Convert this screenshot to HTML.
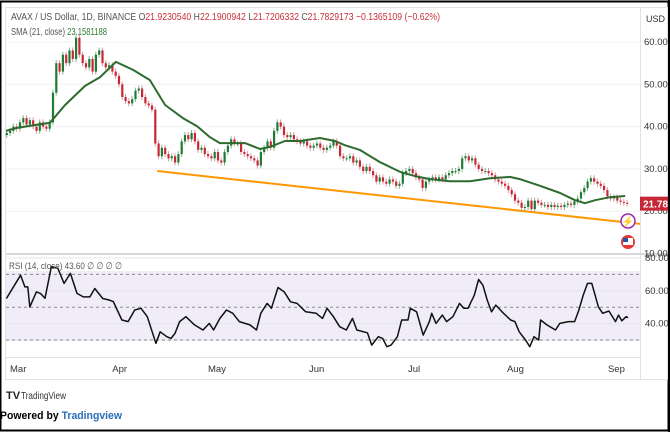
<!DOCTYPE html>
<html><head><meta charset="utf-8"><style>
html,body{margin:0;padding:0;background:#fff;width:670px;height:432px;overflow:hidden;font-family:"Liberation Sans",sans-serif}
svg text{font-family:"Liberation Sans",sans-serif}
</style></head><body>
<svg id="chart" width="670" height="432" viewBox="0 0 670 432" xmlns="http://www.w3.org/2000/svg">
<rect x="0.5" y="1.5" width="668" height="429" fill="#fff" stroke="#000" stroke-width="2"/>
<rect x="5.5" y="7.5" width="662" height="372" fill="none" stroke="#e0e3eb"/>
<line x1="640.5" y1="8" x2="640.5" y2="380" stroke="#e0e3eb"/>
<rect x="6" y="271" width="634" height="70" fill="#f0edf8"/>
<g id="grid"></g>
<line x1="6" y1="254" x2="668" y2="254" stroke="#d6d8de" stroke-width="2"/>
<line x1="6" y1="357.5" x2="640" y2="357.5" stroke="#e0e3eb"/>
<g id="trend"></g>
<g id="candles"></g>
<g id="sma"></g>
<g id="rsi"></g>
<g id="axes"></g>
<text x="11" y="20" font-size="10" fill="#555" textLength="429" lengthAdjust="spacingAndGlyphs">AVAX / US Dollar, 1D, BINANCE  O<tspan fill="#c9303a">21.9230540</tspan>  H<tspan fill="#c9303a">22.1900942</tspan>  L<tspan fill="#c9303a">21.7206332</tspan>  C<tspan fill="#c9303a">21.7829173  −0.1365109 (−0.62%)</tspan></text>
<text x="11" y="35" font-size="10" fill="#555" textLength="96" lengthAdjust="spacingAndGlyphs">SMA (21, close) <tspan fill="#2e7d32">23.1581188</tspan></text>
<text x="9" y="269" font-size="9.5" fill="#555" textLength="113" lengthAdjust="spacingAndGlyphs">RSI (14, close) 43.60 ∅ ∅ ∅ ∅</text>
<text x="646" y="22" font-size="9" fill="#333">USD</text>
<circle cx="628" cy="221" r="7" fill="#fff" stroke="#9c27b0" stroke-width="1.5"/>
<text x="628" y="225" font-size="10" fill="#9c27b0" text-anchor="middle">⚡</text>
<circle cx="628" cy="242" r="7" fill="#e53935"/>
<rect x="623" y="238" width="10" height="7" fill="#fff"/>
<rect x="623" y="238" width="5" height="4" fill="#1e5aa8"/>
<text x="6" y="399" font-size="11" font-weight="bold" fill="#222">TV</text>
<text x="21" y="399" font-size="10" fill="#333" textLength="45" lengthAdjust="spacingAndGlyphs">TradingView</text>
<text x="0" y="419" font-size="11" font-weight="bold" fill="#000" textLength="122" lengthAdjust="spacingAndGlyphs">Powered by <tspan fill="#2a6db5">Tradingview</tspan></text>
</svg>
<script>
const closes=[38.5,39,40,39.5,41,42,40.5,41.5,40,39,41,40,39.5,41,48,55,53,57,55,58,56,61,57,55,54,56,53,57,58,55,54,54.5,53,52,50,47,46,45.5,46.5,48.5,49,47,45.5,45,44,36,33,35,33.5,32.5,33,31.5,33.5,36.5,38,37,38.5,36.5,34.5,35,33.5,33,32.5,34,32,31.5,34,35.5,37,36,36,34,33.5,33,32.5,32,30.8,34,35,36.5,35,39,41,40,38,37.5,38,37,36.5,36,36.5,35.5,35,35.5,36,35,34.5,35,35.5,36.5,35.5,33,32.5,32.5,33,31.5,32,30.5,29.5,30.5,29.5,28.5,27,28,27,26.5,27.5,27,26,26.5,29,29.5,30,29,28,27.5,25.5,27,27.5,28,27.5,28,27.5,28.5,29,29.5,29.5,30,32.5,33,32,32.5,31,30,29.5,29.5,29,28.5,27.5,27,26.5,26,25,24,22.5,22,20.8,21,22.5,20.5,22.5,22,21.5,21.5,21,21.5,21,21.3,21,21.5,21.8,21.5,22.3,23,24.5,25.5,27,27.8,27,26.5,26,25,23.5,23,23.3,22.5,22.2,22,21.78];
const smaDays=[-1.2,2.1,12.1,16.7,22.7,27.3,32.1,37.3,42.4,47,52.4,56.7,60.6,63.6,67.6,71.2,75.8,78.8,83.3,87.9,93.9,98.5,101.5,106,112.1,118.2,122.7,127.3,133.3,139.4,145.5,151.5,154.5,160.6,166.7,171.2,174.2,177.3,181.8,186.4];
const smaValues=[39,39.7,40.9,45.1,49.6,51.7,55.3,53.4,51,45.1,42,40.1,37.5,36.1,36.1,36.1,34.7,35.2,36.6,36.6,37.3,36.6,35.6,34.5,31.6,29.3,28.3,27.6,27.1,27.1,27.8,28.1,27.6,26,24.3,22.6,21.9,22.6,23.3,23.6];
const rsiDays=[-1.1,3.2,4.5,5.4,6,8,9.3,10.6,12.5,14.5,16.4,18.3,20.3,22.2,24.2,25.7,28.1,30,31.3,33.9,35.8,37.8,39.7,41.6,44.2,45.5,47.5,48.8,50,51.4,53.3,55.9,58.5,60.4,61.7,63.6,65.6,67.5,69.5,72.7,74.7,76,77.9,79.2,81.2,83.1,85,87,89.6,92.8,94.7,96.1,98,99.9,101.9,103.8,105.1,108.3,109.6,111.6,112.9,114.2,115.5,117.4,118.7,120.6,121.3,123.2,125.2,127.1,127.8,129.1,131,132.3,134.2,136.2,137.5,138.8,140.7,142,143.3,144.6,145.9,147.2,149.1,151.7,153,154.3,156.2,157.5,158.8,160.2,160.8,162.7,165.3,166.6,169.2,171.1,172.4,173.7,175,176.3,178.3,179.6,181.5,183.5,184.4,185.4,186.7,187.3];
const rsiValues=[55.3,69.5,62.4,62.4,50.2,59.3,58.3,55.4,74.6,73.7,64.5,70.6,58.4,56.3,56.3,61.4,55.3,54.4,53.4,42.2,41.2,48.3,49.3,44.2,28,35,32,31,34,41.2,44.2,39.2,36.1,40.1,36.1,43.2,48.3,46.3,41.2,39.2,36.1,46.3,52.3,49.3,62,59.3,53.3,52.3,47.2,46.3,43.2,49.3,44.2,38.1,36.1,43.2,36.1,34.4,26.9,32,31,25.9,26.9,32,42.2,42.2,49.3,47.2,33,41.2,46.3,40.1,45.2,41.2,44.2,52.3,49.3,49.3,57.3,66.9,63.4,54.4,47.2,51.3,47.2,42.2,41.2,35,30,25.9,32,30,42.2,39.2,36.1,40.1,41.2,41.2,48.3,57.3,64.5,64.5,50.2,46.3,47.7,41.2,45.2,41.7,44.2,43.6];
const trendDays=[44.6,190.9];
const trendValues=[29.5,17];
const priceTicks=[60,50,40,30,20,10];
const priceTickLabels=["60.0000","50.0000","40.0000","30.0000","20.0000","10.0000"];
const rsiTicks=[80,60,40];
const rsiTickLabels=["80.00","60.00","40.00"];
const rsiLevels=[70,50,30];
const monthDays=[0,31,60,90.6,120.6,150.6,181.2];
const monthLabels=["Mar","Apr","May","Jun","Jul","Aug","Sep"];
const lastPrice=21.7829;

const NS="http://www.w3.org/2000/svg";
const xOf=d=>10+d*3.3;
const yP=p=>42+(60-p)*4.23;
const yR=r=>307.2-(r-50)*1.64;
function mk(tag,attrs,parent){const e=document.createElementNS(NS,tag);for(const k in attrs)e.setAttribute(k,attrs[k]);parent.appendChild(e);return e;}
const grid=document.getElementById('grid');
priceTicks.forEach(p=>{const l=mk('line',{x1:6,x2:640,y1:yP(p),y2:yP(p),stroke:'#f0f1f4'},grid);

});
rsiTicks.forEach(r=>{const l=mk('line',{x1:6,x2:640,y1:yR(r),y2:yR(r),stroke:'#e6e4ee'},grid);

});
rsiLevels.forEach(r=>{const l=mk('line',{x1:6,x2:640,y1:yR(r),y2:yR(r),stroke:'#8a8a8a','stroke-dasharray':'3,3'},grid);

});
const tg=document.getElementById('trend');
const tl=mk('line',{x1:xOf(trendDays[0]),y1:yP(trendValues[0]),x2:xOf(trendDays[1]),y2:yP(trendValues[1]),stroke:'#ff9800','stroke-width':2},tg);


const cg=document.getElementById('candles');
closes.forEach((c,i)=>{
  const o=i>0?closes[i-1]:c-0.5;
  const up=c>=o;
  const x=xOf(i-1);
  const hi=Math.max(o,c)+0.7, lo=Math.min(o,c)-0.7;
  const col=up?'#1f7a33':'#c62838';
  const w=mk('line',{x1:x,x2:x,y1:yP(hi),y2:yP(lo),stroke:up?'#7fb58a':'#e0939b','stroke-width':1},cg);
  
  
  const top=yP(Math.max(o,c)),bot=yP(Math.min(o,c));
  const b=mk('rect',{x:x-1,y:top,width:2.2,height:Math.max(1,bot-top),fill:col},cg);
  
  
});
const sg=document.getElementById('sma');
const sp=mk('path',{d:smaDays.map((d,i)=>(i?'L':'M')+xOf(d).toFixed(1)+','+yP(smaValues[i]).toFixed(1)).join(''),fill:'none',stroke:'#2e6b2e','stroke-width':2,'stroke-linejoin':'round'},sg);


const rg=document.getElementById('rsi');
const rp=mk('path',{d:rsiDays.map((d,i)=>(i?'L':'M')+xOf(d).toFixed(1)+','+yR(rsiValues[i]).toFixed(1)).join(''),fill:'none',stroke:'#111','stroke-width':1.5,'stroke-linejoin':'round'},rg);


const ag=document.getElementById('axes');
priceTicks.forEach((p,i)=>{const t=mk('text',{x:644,y:yP(p)+3,'font-size':9.5,fill:'#333'},ag);t.textContent=priceTickLabels[i];

});
rsiTicks.forEach((r,i)=>{const t=mk('text',{x:645,y:yR(r)+3,'font-size':9.5,fill:'#333'},ag);t.textContent=rsiTickLabels[i];

});
monthDays.forEach((d,i)=>{const t=mk('text',{x:xOf(d),y:372,'font-size':9.5,fill:'#333'},ag);t.textContent=monthLabels[i];

});
const pl=mk('rect',{x:640,y:yP(lastPrice)-7,width:28,height:14,fill:'#c62838'},ag);


const pt=mk('text',{x:643,y:yP(lastPrice)+4,'font-size':10,'font-weight':'bold',fill:'#fff'},ag);pt.textContent=lastPrice.toFixed(4);


const mask=mk('rect',{x:668,y:0,width:2,height:432,fill:'#000'},ag);


</script>
</body></html>
